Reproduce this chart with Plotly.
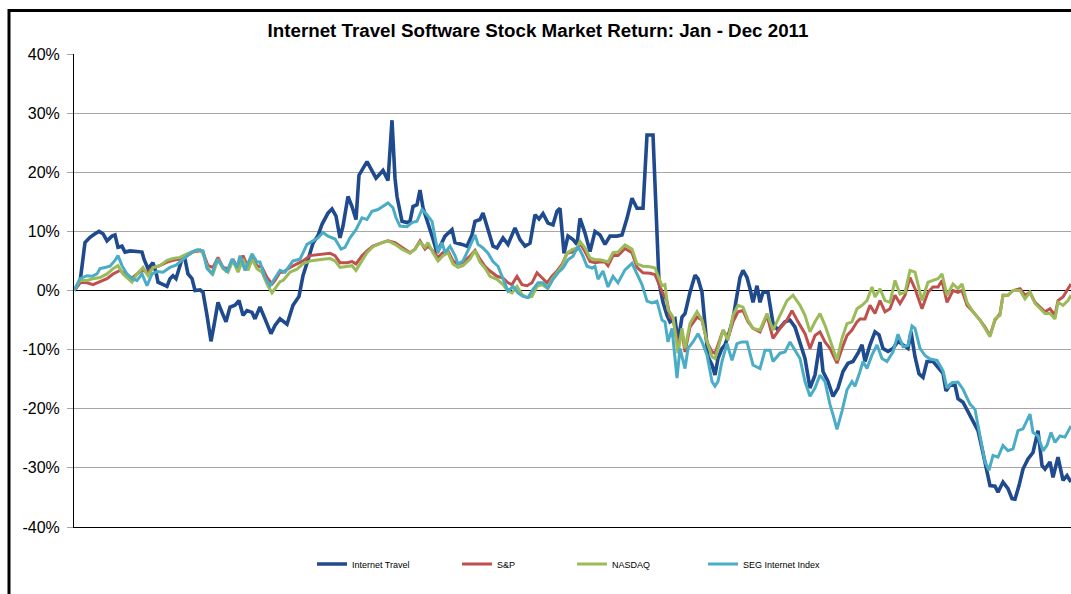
import plotly.graph_objects as go

# Trading-day index (0..249) and cumulative return (%)
it_day = [0, 1.5, 2.75, 4, 5.25, 6.25, 7.25, 8.25, 9.5, 10.25, 11, 12, 12.75, 14, 15.75, 17, 17.5, 18.5, 19.75, 20.5,
          21, 22.25, 23.25, 24, 24.75, 25.5, 26.25, 27.25, 27.75, 28.5, 29.5, 30.25, 31.5, 32.25, 33.25, 34.25, 35, 36,
          37, 38, 39, 40.25, 41.25, 42.25, 43.25, 44.5, 45.25, 46.5, 47.75, 49.25, 50.25, 51.5, 53.25, 54.75, 56.25,
          57.25, 58.5, 59.75, 61, 62, 63.5, 64.5, 65.5, 66.5, 67.25, 68.5, 69.5, 70.5, 71.25, 73.25, 75.5, 77.25, 78.5,
          79.5, 80.25, 80.75, 82, 83.25, 84, 84.75, 85.75, 86.5, 87.25, 88.5, 89.75, 90.75, 91.5, 92.75, 94.5, 95.25,
          97, 98.25, 99.5, 100.25, 101.5, 102.25, 103.5, 104.75, 105.75, 107.25, 108.5, 110.25, 111.5, 112.75, 114,
          115.25, 116.25, 117.25, 118.5, 119.75, 120.75, 121.5, 122.5, 123.5, 124.75, 125.75, 126.5, 127.75, 129,
          130.25, 131.5, 132.75, 134, 135.75, 137, 138.25, 139.5, 140.75, 142.25, 143.25, 144.75, 145.75, 146.25,
          147.25, 148.25, 149, 150.25, 151, 152, 152.75, 154, 155.25, 156, 157, 157.75, 158.5, 159.5, 160.25, 161,
          162, 162.75, 163.5, 164.75, 165.75, 166.5, 167.25, 168.25, 169, 169.75, 170.75, 171.5, 172.25, 173.5,
          174.75, 176, 177.75, 179, 180.25, 181.5, 182.75, 184, 185.25, 186.5, 187.25, 188.5, 189.75, 191, 192.25,
          193.5, 194.75, 196, 197, 197.75, 199, 200.25, 201.25, 202.25, 203.5, 204.75, 206, 207.25, 208.5, 209.25,
          210.25, 211.25, 212.25, 213.25, 214.75, 216, 217.25, 218, 219, 220.25, 221, 222.25, 223.5, 224.75, 226,
          227, 228, 229, 230.25, 231, 232.25, 233.5, 234.5, 235.25, 236.25, 237.25, 238.5, 239.75, 241, 242, 242.75,
          244, 244.75, 246, 247.25, 248.25, 249.25]
it_ret = [0, 1.4, 8.1, 9.0, 9.6, 10.0, 9.6, 8.4, 9.2, 9.4, 7.3, 7.5, 6.5, 6.7, 6.6, 6.5, 5.3, 3.7, 4.7, 3.1,
          1.4, 1.1, 0.7, 2.0, 2.5, 2.0, 3.7, 5.9, 5.3, 2.8, 2.0, 0, 0.1, -0.3, -4.2, -8.6, -5.9, -2.0,
          -3.7, -5.3, -2.8, -2.5, -1.7, -4.2, -3.4, -3.7, -4.8, -2.8, -4.8, -7.3, -5.9, -4.8, -5.7, -2.5, -1.0,
          2.5, 5.2, 8.0, 9.3, 11.2, 13.1, 13.8, 12.6, 8.9, 10.9, 15.9, 14.2, 12.0, 19.5, 21.8, 19.0, 20.3, 18.6,
          28.8, 19.0, 15.9, 11.7, 11.5, 11.7, 14.2, 14.5, 17.0, 14.0, 11.5, 8.7, 6.4, 7.5, 9.2, 10.3, 8.1,
          7.8, 7.5, 9.4, 11.7, 12.0, 13.1, 10.3, 7.5, 7.2, 8.9, 7.8, 10.6, 8.6, 7.5, 8.0,
          12.8, 12.1, 13.0, 11.4, 11.1, 13.4, 13.9, 6.3, 9.2, 8.6, 7.8, 12.2, 9.7, 6.6,
          10.0, 9.4, 7.8, 9.2, 9.2, 9.4, 12.2, 15.6, 13.9, 13.9, 26.3, 26.3, 9.8, 1.4,
          -2.0, -4.2, -5.3, -4.8, -8.7, -4.5, -3.9, -0.3, 2.6, 2.0, -0.3, -5.3, -11.2, -12.6, -14.3, -11.5,
          -9.8, -9.2, -7.8, -4.8, -0.3, 2.2, 3.4, 2.2, 0.3, -2.0, 0.8, -2.0, -0.3, -0.3,
          -5.6, -6.7, -5.3, -5.0, -6.2, -8.7, -11.5, -16.5, -14.3, -8.7, -13.7, -15.4, -17.9, -16.5, -13.7,
          -12.3, -12.0, -10.6, -9.2, -12.0, -9.2, -7.0, -7.5, -9.8, -10.3, -9.8, -8.6, -9.2, -9.8, -7.0,
          -11.2, -14.1, -14.7, -12.0, -12.0, -13.0, -14.0, -17.0, -16.0, -16.0, -18.3, -18.9, -20.6, -22.2, -23.7,
          -26.7, -30.2, -33.0, -33.1, -34.1, -32.4, -33.5, -35.2, -35.3, -33.0, -30.2, -28.5, -27.4, -23.7, -29.6, -30.2,
          -29.0, -31.6, -28.2, -32.1, -31.3, -32.4]

sp_day = [0, 1.5, 3.25, 4.75, 6.5, 8.25, 9.75, 11.5, 12.75, 14.5, 15.75, 17, 18.5, 19.75, 21.5, 23.25, 24.75, 26.5,
          28.25, 29.75, 31.5, 32.25, 33.5, 34.75, 36, 37.25, 38.5, 39.75, 41, 42.25, 43.5, 44.5, 45.75, 47, 48.25,
          49.5, 50.25, 51.5, 52.25, 54, 55.75, 57.25, 59, 60.75, 62.25, 64, 65.25, 66.5, 68.25, 69.5, 70.5, 72,
          73.25, 74.75, 77, 78.5, 80.25, 82, 84, 85.25, 86.5, 87.75, 88.5, 89.75, 91, 92.25, 93.5, 94.75, 96, 97.25,
          99, 100.25, 101.5, 102.75, 104, 105.75, 107.25, 108.5, 109.5, 110.75, 112, 113.25, 114.5, 115.75, 117,
          118.25, 119.5, 120.75, 122, 123.25, 124.5, 125.75, 126.5, 127.75, 129, 130.25, 131.5, 132.75, 133.5,
          134.75, 136, 137.75, 139.5, 140.75, 142.25, 144, 145.25, 146, 147, 148.25, 149, 149.75, 151, 152, 152.75,
          154, 155.75, 157, 158.25, 159.5, 160.25, 161, 162.25, 163.5, 164.75, 166, 167.25, 168.5, 169.75, 171.5,
          173.25, 174.75, 176.5, 178.25, 179.5, 181, 182.75, 184, 185.25, 186.5, 187.75, 189, 190.75, 192, 193.25,
          194.5, 195.75, 196.5, 197.75, 199, 200.25, 201.5, 202.75, 204, 205.25, 206.5, 207.75, 209, 210.25, 212,
          213.5, 214.75, 216, 217, 218.25, 219.75, 221, 222, 223.25, 224.75, 226.5, 227.75, 229, 230.25, 231.5,
          232.25, 233.5, 234.75, 236.5, 237.75, 239, 240.25, 241.5, 242.75, 244, 245.25, 246, 247.25, 248.5, 249.25]
sp_ret = [0, 1.4, 1.3, 1.0, 1.5, 2.0, 2.8, 3.4, 2.8, 2.1, 2.8, 3.4, 3.1, 3.9, 4.2, 4.8, 5.1, 5.3,
          5.9, 6.5, 6.7, 6.5, 4.2, 3.9, 5.6, 3.9, 3.7, 5.3, 3.7, 5.9, 3.9, 5.6, 4.2, 3.9, 2.2,
          1.1, 1.7, 3.1, 3.1, 3.9, 4.5, 5.0, 5.9, 6.0, 6.1, 6.3, 5.9, 4.7, 4.7, 4.9, 4.5, 5.9,
          6.7, 7.5, 8.1, 8.4, 8.1, 7.3, 6.4, 7.0, 8.4, 7.0, 7.5, 6.7, 5.6, 6.4, 6.7, 5.0, 4.5, 4.7,
          5.8, 6.8, 5.3, 4.1, 3.3, 2.4, 2.1, 1.3, 1.0, 2.4, 1.0, 0.8, 1.3, 3.0, 2.1,
          1.3, 2.4, 3.3, 4.4, 6.3, 6.5, 6.9, 8.0, 6.6, 4.9, 4.7, 4.8, 4.8, 4.2,
          5.9, 5.9, 7.1, 6.4, 3.9, 3.0, 2.9, 2.7, 1.4, -0.2, -1.8, -4.5, -4.8, -9.2, -7.0, -10.4,
          -6.2, -4.5, -5.0, -8.7, -10.4, -10.6, -9.2, -6.7, -8.1, -5.3, -3.6, -3.4, -5.3, -6.4, -7.0,
          -4.2, -8.1, -6.4, -5.0, -3.4, -5.3, -7.3, -9.8, -7.6, -7.0, -8.7, -9.8, -12.3, -9.8, -7.6,
          -6.7, -5.3, -4.8, -4.8, -2.5, -3.9, -1.7, -3.6, -3.1, -0.8, -2.2, -0.8, 2.2, 0.3, -3.1,
          -0.3, 0.6, 0.6, 1.7, -2.0, 0, -0.3, 0, -2.5, -3.6, -5.0, -6.2, -7.6, -5.0, -3.9,
          -0.8, -0.8, 0, 0.3, -0.8, -0.3, -2.0, -2.8, -3.6, -3.1, -4.2, -1.7, -1.1, 0.3, 1.1]

nq_day = [0, 1.5, 3.25, 4.75, 6.5, 8.25, 9.75, 11, 12.25, 14.5, 15.75, 17.25, 18.5, 19.75, 21.5, 23.25, 24.75, 26.5,
          28.25, 29.75, 31.5, 32.25, 33.5, 34.75, 36, 37.25, 38.5, 39.75, 41, 42.25, 43.5, 44.5, 45.75, 47, 48.25,
          49.5, 50.25, 51.5, 52.25, 54, 55.75, 57.25, 59, 60.75, 62.25, 64, 65.25, 66.5, 68.25, 69.5, 70.5, 72,
          73.25, 74.75, 77, 78.5, 80.25, 82, 84, 85.25, 86.5, 87.75, 88.5, 89.75, 91, 92.25, 93.5, 94.75, 96, 97.25,
          99, 100.25, 101.5, 102.75, 104, 105.75, 107.25, 108.5, 109.5, 110.75, 112, 113.25, 114.5, 115.75, 117,
          118.25, 119.5, 120.75, 122, 123.25, 124.5, 125.75, 126.5, 127.75, 129, 130.25, 131.5, 132.75, 133.5,
          134.75, 136, 137.75, 139.5, 140.75, 142.25, 144, 145.25, 146, 147, 147.75, 148.5, 149.75, 151, 152, 152.75,
          154, 155.75, 157, 158.25, 159.5, 160.25, 161, 162.25, 163.5, 164.75, 166, 167.25, 168.5, 169.75, 171.5,
          173.25, 174.75, 176.5, 178.25, 179.75, 181.5, 182.75, 184, 185.25, 186.5, 187.75, 189, 190.75, 192, 193.25,
          194.5, 195.75, 197, 198.25, 199.5, 200.25, 201.5, 202.75, 204, 205.25, 206.5, 207.75, 209, 210.25, 212,
          213.5, 214.75, 216, 217, 218.25, 219.75, 221, 222, 223.25, 224.75, 226.5, 227.75, 229, 230.25, 231.5,
          232.25, 233.5, 234.75, 236.5, 237.75, 239, 240.25, 241.5, 242.75, 244, 245.25, 246, 247.25, 248.5, 249.25]
nq_ret = [0, 1.7, 1.7, 2.0, 2.2, 2.8, 3.7, 4.2, 2.8, 1.4, 2.8, 3.9, 2.5, 3.9, 4.2, 5.1, 5.4, 5.6,
          6.2, 6.6, 6.9, 6.2, 3.7, 2.8, 5.3, 3.7, 3.1, 5.1, 3.1, 5.3, 3.4, 5.3, 3.7, 3.1, 1.1,
          -0.4, 0.3, 1.5, 1.7, 3.1, 3.6, 4.5, 5.0, 5.2, 5.3, 5.4, 5.0, 3.9, 4.1, 4.2, 3.4, 5.0,
          6.4, 7.4, 8.1, 8.4, 7.8, 7.0, 6.3, 7.0, 8.2, 7.3, 8.1, 6.4, 5.0, 5.9, 6.4, 4.5, 3.9, 4.2,
          5.3, 6.8, 4.8, 3.8, 2.4, 1.9, 1.0, -0.1, -0.4, 0.7, -0.7, -1.2, -1.0, 0.7, 1.0,
          0.4, 1.9, 3.0, 4.1, 6.3, 6.9, 7.2, 8.3, 7.2, 5.5, 5.2, 5.2, 5.0, 4.8,
          6.4, 6.5, 7.7, 7.0, 4.5, 4.1, 4.0, 3.8, 2.5, 0.8, 1.0, -3.2, -4.5, -10.6, -6.4, -9.8,
          -5.6, -3.6, -5.0, -8.7, -11.2, -11.5, -9.8, -6.7, -8.4, -4.2, -2.5, -2.8, -5.0, -6.4, -6.7,
          -3.9, -6.7, -4.2, -1.7, -0.8, -2.5, -4.2, -7.0, -5.3, -3.9, -5.9, -8.4, -11.8, -8.1, -5.6,
          -5.3, -3.1, -2.5, -1.7, 0.6, -1.1, 0.3, -1.7, -2.0, 1.7, -0.6, -0.3, 3.4, 3.1, -1.7,
          1.4, 1.7, 2.0, 2.8, -0.8, 1.1, 0.3, 1.1, -2.0, -3.6, -5.0, -6.4, -7.8, -4.8, -4.2,
          -0.8, -0.8, 0, 0, -1.4, -0.3, -2.2, -3.1, -3.9, -3.9, -4.8, -2.0, -2.5, -1.7, -0.8]

seg_day = [0, 1.5, 3.25, 4.5, 5.75, 6.5, 7.75, 9, 10.25, 11, 12, 13.25, 14.5, 15.75, 17, 18.25, 19.5, 20.75, 22.25,
           24, 25.5, 27, 28.25, 29.5, 30.75, 32.25, 33.25, 34.5, 35.75, 37, 38.25, 39.5, 40.75, 41.5, 42.75, 44.5,
           45.75, 46.5, 47.75, 49, 50.25, 51.5, 52.75, 54.75, 56.5, 58.25, 59.75, 61, 62.25, 63.5, 65.25, 66.75,
           67.75, 69, 70.5, 72, 73.25, 74.5, 76, 77.25, 78.5, 79.75, 80.5, 81.5, 83.25, 84.5, 85.75, 87, 88.25,
           89.5, 90.25, 91, 92, 92.75, 94, 95.25, 96, 97.25, 99, 100.25, 101, 102.25, 103.5, 104.75, 106, 107.25,
           108.5, 109.75, 111, 112.25, 113.5, 114.75, 116, 117.25, 118.5, 119.75, 121, 122.25, 123.5, 124.75, 126,
           127.25, 128.25, 129.5, 130.25, 131, 132.25, 133.5, 134.75, 136, 137.75, 139.5, 140.75, 142, 143.25,
           144.5, 145.75, 147, 147.75, 148.5, 149.5, 150.75, 151.5, 152.75, 153.5, 154.75, 156, 157, 158.25,
           159.5, 160.25, 161, 162, 163.25, 164.5, 165.75, 167, 168.25, 169.75, 171.5, 172.75, 174, 174.75, 176.5,
           177.75, 179, 180.25, 181.5, 182.75, 184, 185.25, 186.5, 187.75, 189, 189.75, 190.75, 192, 193.25, 194.5,
           195.25, 196.5, 197.25, 198.25, 199.5, 200.75, 202, 203.25, 204.75, 206, 207.25, 208.5, 209.5, 210.25,
           211.5, 212.75, 214, 215.75, 217.25, 218.25, 219.5, 221, 222.25, 224, 225.25, 226.5, 227.75, 228.75,
           229.75, 231, 232.25, 233.5, 234.75, 236, 237.25, 239, 239.75, 241, 242.25, 243.25, 244.25, 245.25,
           246.5, 247.75, 249.25]
seg_ret = [0, 2.0, 2.5, 2.4, 2.8, 3.7, 3.9, 4.1, 5.1, 5.9, 4.2, 2.8, 2.0, 1.7, 2.8, 0.8, 2.8, 3.2, 3.1,
           3.9, 4.3, 5.1, 5.9, 6.5, 6.9, 6.7, 3.7, 2.8, 5.3, 4.2, 3.1, 5.3, 3.9, 5.9, 3.4, 6.2,
           4.8, 4.8, 2.2, 0.8, 2.0, 3.4, 3.1, 5.0, 5.3, 7.8, 8.4, 8.9, 9.8, 9.2, 8.7, 7.0,
           7.3, 8.9, 10.3, 12.3, 12.0, 13.4, 13.7, 14.2, 14.8, 14.0, 12.3, 10.9, 10.8, 11.5, 11.7, 13.7, 12.8,
           11.7, 9.2, 6.4, 8.1, 6.4, 7.5, 5.9, 4.5, 5.0, 7.5, 9.4, 7.8, 7.2, 6.3, 4.9, 4.1, 2.1,
           -0.1, 0.7, -0.4, -1.0, -1.2, 0.2, 1.3, 1.3, 0.4, 1.9, 3.0, 3.8, 5.2, 5.8, 7.5,
           5.8, 4.1, 3.8, 4.1, 1.9, 3.3, 0.6, 2.4, 1.3, 3.5, 4.6, 2.8, 1.0, -1.8,
           -2.1, -1.8, -5.0, -5.3, -8.7, -6.4, -14.8, -9.8, -13.2, -9.8, -8.7, -7.3, -8.7, -10.9,
           -15.4, -16.2, -15.4, -12.0, -9.0, -11.8, -9.0, -8.7, -8.7, -12.6, -13.2, -10.1, -10.1, -12.0, -10.6,
           -10.4, -8.7, -10.1, -11.5, -15.4, -17.9, -16.5, -14.3, -15.4, -19.3, -21.0, -23.5, -20.4, -16.8, -15.4,
           -16.2, -13.7, -12.0, -13.2, -10.9, -9.2, -11.5, -12.0, -10.4, -7.4, -9.5, -9.3, -6.0, -6.4,
           -9.8, -11.0, -11.6, -11.8, -13.6, -16.5, -15.6, -15.5, -16.7, -19.2, -20.1, -24.6, -29.0, -30.4,
           -27.9, -28.2, -26.2, -27.1, -26.8, -23.7, -23.4, -20.9, -24.0, -24.6, -27.1, -26.2, -24.0, -25.7,
           -24.6, -24.8, -22.9]

series_names = ["Internet Travel", "S&P", "NASDAQ", "SEG Internet Index"]
series_colors = ["#1F4A8E", "#C0504D", "#9BBB59", "#4BACC6"]
series_widths = [3.6, 3.0, 3.0, 3.0]
y_ticks = [-40, -30, -20, -10, 0, 10, 20, 30, 40]
y_tick_text = [f"{v}%" for v in y_ticks]

W, H = 1071, 594
ML, MR, MT, MB = 74, 0, 54, 594 - 527
pw, ph = W - ML - MR, H - MT - MB
FONT = "Liberation Sans, Arial, sans-serif"

fig = go.Figure()
data = [(it_day, it_ret), (sp_day, sp_ret), (nq_day, nq_ret), (seg_day, seg_ret)]
legend_ids = ["legend", "legend2", "legend3", "legend4"]
legend_x_px = [322, 467, 582, 713]
for (d, r), name, col, w, lg in zip(data, series_names, series_colors, series_widths, legend_ids):
    fig.add_trace(go.Scatter(x=d, y=r, mode="lines", name=name, legend=lg,
                             line=dict(color=col, width=w), hoverinfo="skip"))

legend_common = dict(orientation="h", xref="container", yref="container", yanchor="middle", xanchor="left",
                     font=dict(family=FONT, size=9, color="#000000"),
                     bgcolor="rgba(0,0,0,0)", borderwidth=0, itemwidth=30)
layout_legends = {}
for lg, xp in zip(legend_ids, legend_x_px):
    layout_legends[lg] = dict(legend_common, x=(xp - 10) / W, y=1 - 564 / H)

fig.update_layout(
    width=W, height=H,
    margin=dict(l=ML, r=MR, t=MT, b=MB, pad=0),
    paper_bgcolor="white", plot_bgcolor="white",
    showlegend=True,
    title=dict(text="<b>Internet Travel Software Stock Market Return: Jan - Dec 2011</b>",
               x=538 / W, xanchor="center", xref="container",
               y=1 - 30 / H, yanchor="middle", yref="container",
               font=dict(family=FONT, size=18.75, color="#000000")),
    xaxis=dict(range=[0, 249.25], showticklabels=False, ticks="", showgrid=False, zeroline=False,
               showline=True, linecolor="#000000", linewidth=1),
    yaxis=dict(range=[-40, 40], tickvals=y_ticks, ticktext=y_tick_text, showgrid=True, gridcolor="#A6A6A6",
               gridwidth=1, zeroline=True, zerolinecolor="#000000", zerolinewidth=1,
               showline=True, linecolor="#000000", linewidth=1,
               ticks="outside", ticklen=6, tickcolor="#A6A6A6", ticklabelstandoff=4,
               tickfont=dict(family=FONT, size=16, color="#000000")),
    shapes=[dict(type="rect", xref="paper", yref="paper",
                 x0=(9 - ML) / pw, x1=(W + 20 - ML) / pw, y0=(MT + ph - H - 30) / ph, y1=(MT + ph - 10.5) / ph,
                 line=dict(color="#000000", width=3), fillcolor="rgba(0,0,0,0)", layer="above")],
    **layout_legends,
)

# remove the default page margin so the figure sits at the window origin
fig.write_html("out.html", config={"displayModeBar": False},
               post_script="document.body.style.margin='0';document.body.style.overflow='hidden';")
